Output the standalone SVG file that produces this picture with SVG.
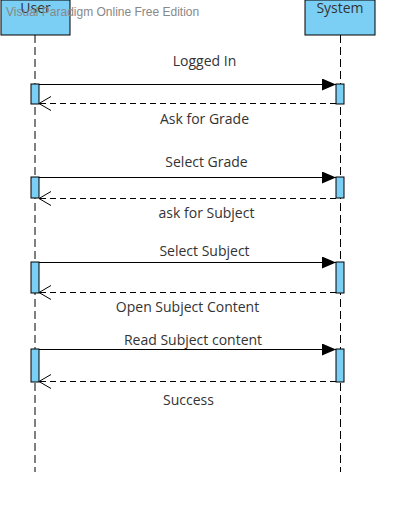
<svg xmlns="http://www.w3.org/2000/svg" width="404" height="520" viewBox="0 0 404 520">
<defs>
<marker id="solid" markerWidth="14" markerHeight="12" refX="14" refY="6" orient="auto" markerUnits="userSpaceOnUse"><path d="M0,0 L14,6 L0,12 Z" fill="#000"/></marker>
<marker id="open" markerWidth="14" markerHeight="16" refX="13" refY="8" orient="auto" markerUnits="userSpaceOnUse"><path d="M1,1 L13,8 L1,15" fill="none" stroke="#000" stroke-width="1"/></marker>
</defs>
<style>
.head{fill:#7ccff4;stroke:#000;stroke-width:1}
.life{stroke:#000;stroke-width:1;stroke-dasharray:8,4;fill:none}
.act{fill:#7ccff4;stroke:#000;stroke-width:1}
.msg{stroke:#000;stroke-width:1;fill:none}
.ret{stroke:#000;stroke-width:1;stroke-dasharray:6,4;fill:none}
.t{font-family:"Open Sans","Noto Sans",sans-serif;font-size:14px;fill:#333;text-anchor:middle}
.wm{font-family:"Liberation Sans",Arial,sans-serif;font-size:12px;fill:#888}
</style>
<rect width="404" height="520" fill="#fff"/>
<g id="user">
<rect class="head" x="1" y="0" width="69" height="35"/>
<text class="t" x="35.5" y="13">User</text>
<line class="life" x1="35" y1="35" x2="35" y2="472"/>
<rect class="act" x="31" y="84" width="8" height="20"/>
<rect class="act" x="31" y="177" width="8" height="21"/>
<rect class="act" x="31" y="262" width="8" height="31"/>
<rect class="act" x="31" y="349" width="8" height="33"/>
</g>
<g id="system">
<rect class="head" x="305" y="0" width="70" height="35"/>
<text class="t" x="340" y="13">System</text>
<line class="life" x1="340.5" y1="35" x2="340.5" y2="472"/>
<rect class="act" x="336" y="84" width="8" height="20"/>
<rect class="act" x="336" y="177" width="8" height="21"/>
<rect class="act" x="336" y="262" width="8" height="31"/>
<rect class="act" x="336" y="349" width="8" height="33"/>
</g>
<g id="connectors">
<line class="msg" x1="39" y1="84.5" x2="336" y2="84.5" marker-end="url(#solid)"/>
<line class="ret" x1="336" y1="103.5" x2="39" y2="103.5" marker-end="url(#open)"/>
<line class="msg" x1="39" y1="177.5" x2="336" y2="177.5" marker-end="url(#solid)"/>
<line class="ret" x1="336" y1="198.5" x2="39" y2="198.5" marker-end="url(#open)"/>
<line class="msg" x1="39" y1="262.5" x2="336" y2="262.5" marker-end="url(#solid)"/>
<line class="ret" x1="336" y1="292.5" x2="39" y2="292.5" marker-end="url(#open)"/>
<line class="msg" x1="39" y1="349.5" x2="336" y2="349.5" marker-end="url(#solid)"/>
<line class="ret" x1="336" y1="381.5" x2="39" y2="381.5" marker-end="url(#open)"/>
<text class="t" x="204.5" y="66">Logged In</text>
<text class="t" x="204.5" y="124">Ask for Grade</text>
<text class="t" x="206.5" y="167">Select Grade</text>
<text class="t" x="206.5" y="218">ask for Subject</text>
<text class="t" x="204.5" y="256">Select Subject</text>
<text class="t" x="187.5" y="312">Open Subject Content</text>
<text class="t" x="193" y="345">Read Subject content</text>
<text class="t" x="188.5" y="405">Success</text>
</g>
<text class="wm" x="6" y="16">Visual Paradigm Online Free Edition</text>
</svg>
